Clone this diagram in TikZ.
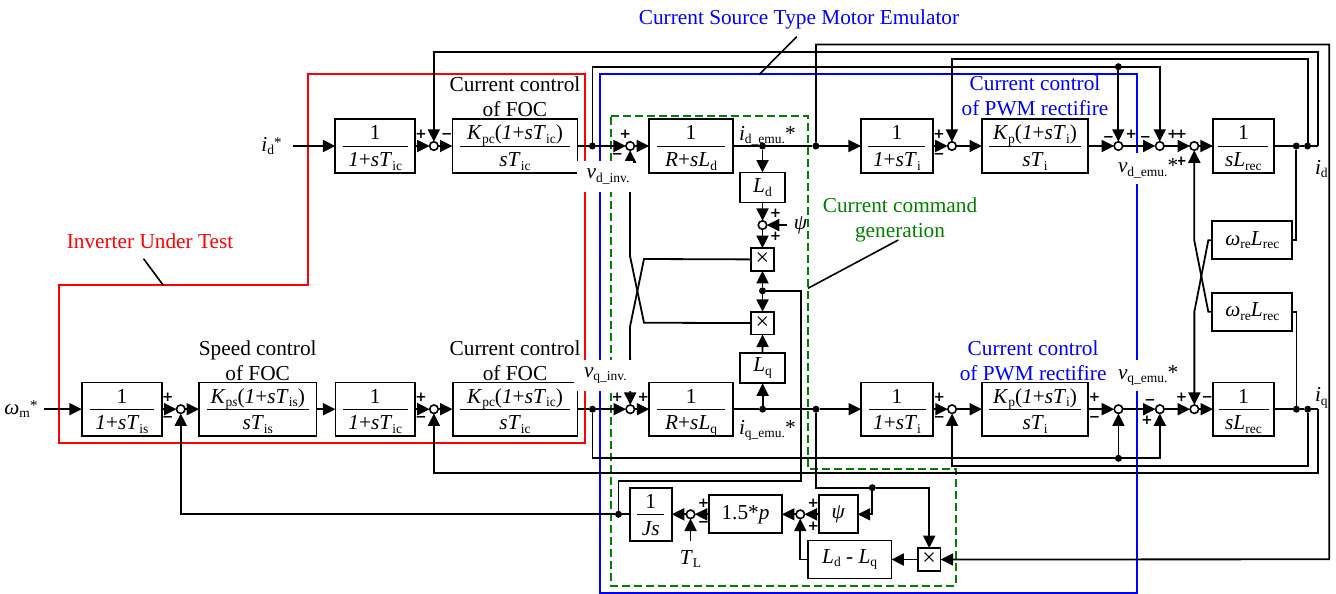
\documentclass[tikz,border=0pt]{standalone}
\usepackage{fontspec}
\setmainfont{Liberation Serif}
\newfontfamily\signfont{DejaVu Sans}
\usetikzlibrary{positioning,arrows.meta}
\newcommand{\tsub}[1]{\raisebox{-3.5pt}{\fontsize{13.5}{13.5}\selectfont #1}}
\newcommand{\tstar}{\raisebox{4pt}{\fontsize{15}{15}\selectfont *}}
\newcommand{\blockfrac}[3]{\smash{\makebox[0pt]{\raisebox{6pt}{#2}}\makebox[0pt]{\rule[-0.4pt]{#1}{0.8pt}}\makebox[0pt]{\raisebox{-20.7pt}{#3}}}}
\newcommand{\itl}[1]{\textit{#1}}
\definecolor{grp}{rgb}{0,0.5,0}
\begin{document}
\begin{tikzpicture}[
    x=1pt, y=-1pt,
    font=\fontsize{21.3}{25}\selectfont,
    label distance=6pt,
    box/.style={draw, line width=1.8pt, fill=white, inner sep=0pt, outer sep=0pt, align=center},
    fbox/.style={box, minimum height=53.4pt},
    sbox/.style={box, minimum height=38pt},
    mult/.style={box, minimum size=22.7pt, font=\fontsize{24}{24}\selectfont},
    sumj/.style={draw, circle, line width=1.6pt, fill=white, inner sep=0pt, outer sep=0pt, minimum size=8.5pt},
    jdot/.style={circle, fill=black, inner sep=0pt, outer sep=0pt, minimum size=7pt},
    sgn/.style={font=\fontsize{13.5}{13.5}\bfseries\signfont, inner sep=0pt, outer sep=0pt},
    txt/.style={inner sep=0pt, outer sep=0pt, align=center},
    hole/.style={txt, fill=white},
    conn/.style={line width=1.8pt},
    arr/.style={-{Triangle[length=12.5pt,width=12pt]}, line width=1.8pt},
    ptr/.style={line width=1.6pt},
    redblk/.style={draw=red, line width=2pt},
    blueblk/.style={draw=blue, line width=2pt},
    greenblk/.style={draw=grp, line width=2pt, dash pattern=on 8pt off 4pt}
  ]
    \useasboundingbox (0,0) rectangle (1336,594);

    \draw[redblk] (59.3,285.3) -- (308.4,285.3) -- (308.4,74.3) -- (585.2,74.3) -- (585.2,443) -- (59.3,443) -- cycle;
    \draw[blueblk] (600,74.5) rectangle (1137,592.7);
    \draw[greenblk] (611.3,116) -- (808,116) -- (808,469) -- (956,469) -- (956,585.7) -- (611.3,585.7) -- cycle;

    \node[fbox, minimum width=79.7pt, anchor=west] (FD1) at (335.3,146)
      {\blockfrac{65pt}{1}{\itl{1}+\itl{sT}\tsub{ic}}};
    \node[sumj, right=14.6pt of FD1, label={[sgn]135:+}, label={[sgn]45:−}] (S1) {};
    \node[fbox, minimum width=124.9pt, right=14.4pt of S1] (KD)
      {\blockfrac{110pt}{\itl{K}\tsub{pc}(\itl{1}+\itl{sT}\tsub{ic})}{\itl{sT}\tsub{ic}}};
    \node[jdot, right=11.5pt of KD] (J1) {};
    \node[sumj, right=30pt of J1, label={[sgn,xshift=8pt]135:+}, label={[sgn]225:−}] (S2) {};
    \node[fbox, minimum width=83.7pt, right=14.8pt of S2] (RD)
      {\blockfrac{68pt}{1}{\itl{R}+\itl{sL}\tsub{d}}};
    \node[jdot, right=26.1pt of RD] (JE) {};
    \node[jdot, right=46.4pt of JE] (JF) {};
    \node[fbox, minimum width=72pt, right=41.5pt of JF] (FD2)
      {\blockfrac{57pt}{1}{\itl{1}+\itl{sT}\tsub{i}}};
    \node[sumj, right=14.8pt of FD2, label={[sgn]135:+}, label={[sgn]225:−}] (S4) {};
    \node[fbox, minimum width=106pt, right=25.8pt of S4] (KR)
      {\blockfrac{92pt}{\itl{K}\tsub{p}(\itl{1}+\itl{sT}\tsub{i})}{\itl{sT}\tsub{i}}};
    \node[sumj, right=26.1pt of KR, label={[sgn,xshift=3pt,yshift=-3pt]135:−}, label={[sgn]45:+}] (S5) {};
    \node[sumj, right=32.9pt of S5, label={[sgn,xshift=-1.5pt,yshift=-3pt]135:−}, label={[sgn]45:+}] (S6) {};
    \node[sumj, right=26pt of S6, label={[sgn]135:+}, label={[sgn,yshift=-4pt]225:+}] (S7) {};
    \node[fbox, minimum width=61pt, right=14.4pt of S7] (LR)
      {\blockfrac{50pt}{1}{\itl{sL}\tsub{rec}}};
    \node[jdot, right=18.9pt of LR] (JG) {};
    \node[jdot, right=4.3pt of JG] (JH) {};
    \coordinate (CD) at (1318.3,146);

    \node[fbox, minimum width=80.2pt, anchor=west] (FQ1) at (81.8,409.2)
      {\blockfrac{64pt}{1}{\itl{1}+\itl{sT}\tsub{is}}};
    \node[sumj, right=14.5pt of FQ1, label={[sgn]135:+}, label={[sgn]225:−}] (Sa) {};
    \node[fbox, minimum width=117.4pt, right=14pt of Sa] (KS)
      {\blockfrac{102pt}{\itl{K}\tsub{p\itl{s}}(\itl{1}+\itl{sT}\tsub{is})}{\itl{sT}\tsub{is}}};
    \node[fbox, minimum width=79.7pt, right=19pt of KS] (FQ2)
      {\blockfrac{65pt}{1}{\itl{1}+\itl{sT}\tsub{ic}}};
    \node[sumj, right=14.6pt of FQ2, label={[sgn]135:+}, label={[sgn]225:−}] (Sb) {};
    \node[fbox, minimum width=124.9pt, right=14.4pt of Sb] (KQ)
      {\blockfrac{110pt}{\itl{K}\tsub{pc}(\itl{1}+\itl{sT}\tsub{ic})}{\itl{sT}\tsub{ic}}};
    \node[jdot, right=11.5pt of KQ] (J2) {};
    \node[sumj, right=30pt of J2, label={[sgn]135:+}, label={[sgn]45:+}] (Sq) {};
    \node[fbox, minimum width=83.7pt, right=14.8pt of Sq] (RQ)
      {\blockfrac{68pt}{1}{\itl{R}+\itl{sL}\tsub{q}}};
    \node[jdot, right=26.1pt of RQ] (JK) {};
    \node[jdot, right=46.4pt of JK] (JL) {};
    \node[fbox, minimum width=72pt, right=41.5pt of JL] (FQ3)
      {\blockfrac{57pt}{1}{\itl{1}+\itl{sT}\tsub{i}}};
    \node[sumj, right=14.8pt of FQ3, label={[sgn]135:+}, label={[sgn]225:−}] (Sc) {};
    \node[fbox, minimum width=106pt, right=25.8pt of Sc] (KT)
      {\blockfrac{92pt}{\itl{K}\tsub{p}(\itl{1}+\itl{sT}\tsub{i})}{\itl{sT}\tsub{i}}};
    \node[sumj, right=26.1pt of KT, label={[sgn,xshift=-11pt]135:+}, label={[sgn,xshift=-11pt]225:−}] (Sd) {};
    \node[sumj, right=32.9pt of Sd, label={[sgn,xshift=3pt,yshift=-3pt]135:−}, label={[sgn]225:+}] (Se) {};
    \node[sumj, right=26pt of Se, label={[sgn]135:+}, label={[sgn]45:−}] (Sf) {};
    \node[fbox, minimum width=61pt, right=14.4pt of Sf] (LS)
      {\blockfrac{50pt}{1}{\itl{sL}\tsub{rec}}};
    \node[jdot, right=18.9pt of LS] (JM) {};
    \node[jdot, right=4.3pt of JM] (JN) {};
    \coordinate (CQ) at (1318.3,409.2);

    \node[box, minimum width=45.3pt, minimum height=30pt, below=23pt of JE] (LD) {\itl{L}\tsub{d}};
    \node[sumj, below=18.3pt of LD, label={[sgn]45:+}, label={[sgn]315:+}] (SP) {};
    \node[mult, below=18.8pt of SP] (X1) {×};
    \node[jdot, below=16.5pt of X1] (JC) {};
    \node[mult, below=17.5pt of JC] (X2) {×};
    \node[box, minimum width=45.3pt, minimum height=30.6pt, above=22.4pt of JK] (LQ) {\itl{L}\tsub{q}};
    \node[txt, inner xsep=7pt, right=20pt of SP] (PS) {\itl{ψ}};

    \node[box, minimum width=80pt, minimum height=38pt, anchor=west] (WA) at (1212.3,240.3)
      {\itl{ω}\tsub{re}\itl{L}\tsub{rec}};
    \node[box, minimum width=80pt, minimum height=38pt, anchor=west] (WB) at (1212.3,311.7)
      {\itl{ω}\tsub{re}\itl{L}\tsub{rec}};

    \node[mult] (X3) at (929.2,559.5) {×};
    \node[sbox, minimum width=83.6pt, left=26.4pt of X3] (LDQ) {\itl{L}\tsub{d} - \itl{L}\tsub{q}};
    \node[jdot] (JP) at (872.3,487.7) {};
    \node[sbox, minimum width=38.4pt] (PB) at (838.5,514.3) {\itl{ψ}};
    \node[sumj, left=14.8pt of PB, label={[sgn]45:+}, label={[sgn]315:+}] (Sg) {};
    \node[sbox, minimum width=72.7pt, left=14.1pt of Sg] (BP) {1.5*\itl{p}};
    \node[sumj, left=14.4pt of BP, label={[sgn]45:+}, label={[sgn]315:−}] (Sh) {};
    \node[fbox, minimum width=42pt, left=14.5pt of Sh] (JB)
      {\blockfrac{27pt}{1}{\itl{Js}}};
    \node[jdot, left=7.8pt of JB] (JS) {};
    \node[txt, inner ysep=9pt, below=22.5pt of Sh] (TL) {\itl{T}\tsub{L}};

    \node[txt, inner xsep=11pt, left=42.7pt of FD1] (ID) {\itl{i}\tsub{d}\tstar};
    \node[txt, inner xsep=6pt, left=38.3pt of FQ1] (WM) {\itl{ω}\tsub{m}\tstar};

    \draw[arr] (ID) -- (FD1);
    \draw[arr] (FD1) -- (S1);
    \draw[arr] (S1) -- (KD);
    \draw[conn] (KD) -- (J1);
    \draw[arr] (J1) -- (S2);
    \draw[arr] (S2) -- (RD);
    \draw[conn] (RD) -- (JE);
    \draw[conn] (JE) -- (JF);
    \draw[arr] (JF) -- (FD2);
    \draw[arr] (FD2) -- (S4);
    \draw[arr] (S4) -- (KR);
    \draw[arr] (KR) -- (S5);
    \draw[arr] (S5) -- (S6);
    \draw[arr] (S6) -- (S7);
    \draw[arr] (S7) -- (LR);
    \draw[conn] (LR) -- (JG) -- (JH) -- (CD);

    \draw[arr] (WM) -- (FQ1);
    \draw[arr] (FQ1) -- (Sa);
    \draw[arr] (Sa) -- (KS);
    \draw[arr] (KS) -- (FQ2);
    \draw[arr] (FQ2) -- (Sb);
    \draw[arr] (Sb) -- (KQ);
    \draw[conn] (KQ) -- (J2);
    \draw[arr] (J2) -- (Sq);
    \draw[arr] (Sq) -- (RQ);
    \draw[conn] (RQ) -- (JK);
    \draw[conn] (JK) -- (JL);
    \draw[arr] (JL) -- (FQ3);
    \draw[arr] (FQ3) -- (Sc);
    \draw[arr] (Sc) -- (KT);
    \draw[arr] (KT) -- (Sd);
    \draw[arr] (Sd) -- (Se);
    \draw[arr] (Se) -- (Sf);
    \draw[arr] (Sf) -- (LS);
    \draw[conn] (LS) -- (JM) -- (JN) -- (CQ);

    \node[jdot] (JT) at (S5 |- 0,66.7) {};
    \node[jdot] (JB2) at (Sd |- 0,458.3) {};
    \draw[arr] (CD) -- (CD |- 0,52) -| (S1);
    \draw[arr] (JH) -- (JH |- 0,59.3) -| (S4);
    \draw[arr] (J1) -- (J1 |- 0,66.7) -| (S6);
    \draw[arr] (JT) -- (S5);
    \draw[arr] (JF) -- (JF |- 0,44.6) -| (1329.3,559.3) -- (X3);
    \draw[arr] (JN) -- (JN |- 0,466) -| (Sc);
    \draw[arr] (CQ) -- (CQ |- 0,473.3) -| (Sb);
    \draw[arr] (J2) -- (J2 |- 0,458.3) -| (Se);
    \draw[arr] (JB2) -- (Sd);

    \draw[conn] (JG) |- (WA);
    \draw[conn] (JM) |- (WB);
    \draw[arr] (WA) -- (1208.3,240.3) -- (Sf |- 0,311.7) -- (Sf);
    \draw[arr] (WB) -- (1208.3,311.7) -- (S7 |- 0,240.3) -- (S7);

    \draw[arr] (JE) -- (LD);
    \draw[arr] (LD) -- (SP);
    \draw[arr] (PS) -- (SP);
    \draw[arr] (SP) -- (X1);
    \draw[arr] (JC) -- (X1);
    \draw[arr] (JC) -- (X2);
    \draw[arr] (LQ) -- (X2);
    \draw[arr] (JK) -- (LQ);
    \draw[arr] (X1) -- (644,259) -- (630,326.7) -- (Sq);
    \draw[arr] (X2) -- (644,322.7) -- (630,256) -- (S2);
    \draw[conn] (JC) -| (800.7,481) -| (JS);

    \draw[conn] (JL) |- (JP);
    \draw[arr] (JP) -| (X3);
    \draw[arr] (JP) |- (PB);
    \draw[arr] (X3) -- (LDQ);
    \draw[arr] (LDQ) -| (Sg);
    \draw[arr] (PB) -- (Sg);
    \draw[arr] (Sg) -- (BP);
    \draw[arr] (BP) -- (Sh);
    \draw[arr] (Sh) -- (JB);
    \draw[arr] (TL) -- (Sh);
    \draw[conn] (JB) -- (JS);
    \draw[arr] (JS) -| (Sa);

    \node[hole, minimum height=31.3pt, anchor=north west] (VD) at (576.5,160.7)
      {\hspace*{10.2pt}\itl{v}\tsub{d\_inv.}\hspace*{4pt}};
    \node[hole, minimum height=31pt, anchor=north west] (VQ) at (574,360)
      {\hspace*{10pt}\itl{v}\tsub{q\_inv.}\hspace*{8pt}};
    \node[hole, minimum height=31.3pt, anchor=north west] (VE) at (1118,152.7)
      {\itl{v}\tsub{d\_emu.}*};
    \node[hole, minimum height=31pt, anchor=north west] (VF) at (1118,360)
      {\itl{v}\tsub{q\_emu.}*};
    \node[txt, anchor=base west] (IE) at (739,140) {\itl{i}\tsub{d\_emu.}*};
    \node[txt, anchor=base west] (IF) at (739,434) {\itl{i}\tsub{q\_emu.}*};
    \node[txt, anchor=base west] (IDO) at (1315,174) {\itl{i}\tsub{d}};
    \node[txt, anchor=base west] (IQO) at (1315,401.7) {\itl{i}\tsub{q}};

    \node[txt, above=3pt of KD] (LB1) {Current control\\of FOC};
    \node[txt, above=2pt of KQ] (LB2) {Current control\\of FOC};
    \node[txt, above=2pt of KS] (LB3) {Speed control\\of FOC};
    \node[txt, text=blue, above=3pt of KR] (LB4) {Current control\\of PWM rectifire};
    \node[txt, text=blue, xshift=-2pt, above=2pt of KT] (LB5) {Current control\\of PWM rectifire};
    \node[txt, text=grp] (LB6) at (900,219.5) {Current command\\generation};
    \node[txt, text=red] (LB7) at (150,241) {Inverter Under Test};
    \node[txt, text=blue] (LB8) at (799,19) {Current Source Type Motor Emulator};

    \coordinate (PA) at (143.5,258.7);
    \coordinate (PB1) at (163.3,285.3);
    \coordinate (PC) at (796.7,36.7);
    \coordinate (PD) at (759,74.7);
    \coordinate (PE) at (898.3,240);
    \coordinate (PF) at (808,288.3);
    \draw[ptr] (PA) -- (PB1);
    \draw[ptr] (PC) -- (PD);
    \draw[ptr] (PE) -- (PF);
\end{tikzpicture}
\end{document}
